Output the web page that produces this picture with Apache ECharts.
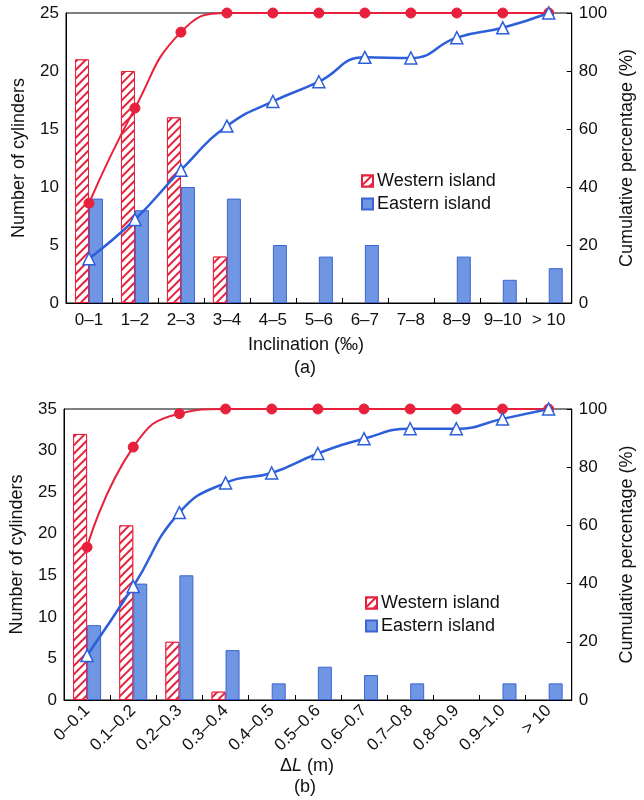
<!DOCTYPE html>
<html><head><meta charset="utf-8">
<script src="https://cdn.jsdelivr.net/npm/echarts@6/dist/echarts.min.js"></script>
<style>html,body{margin:0;padding:0;background:#fff}#c{width:644px;height:800px}</style>
</head><body><div id="c"></div>
<script>
// (a) Inclination
const catsA = ['0–1','1–2','2–3','3–4','4–5','5–6','6–7','7–8','8–9','9–10','> 10'];
const westA = [21, 20, 16, 4, 0, 0, 0, 0, 0, 0, 0];
const eastA = [9, 8, 10, 9, 5, 4, 5, 0, 4, 2, 3];
const westCumA = [34.4, 67.2, 93.4, 100, 100, 100, 100, 100, 100, 100, 100];
const eastCumA = [15.3, 28.8, 45.8, 61.0, 69.5, 76.3, 84.7, 84.5, 91.5, 94.9, 100];
// (b) Delta L
const catsB = ['0–0.1','0.1–0.2','0.2–0.3','0.3–0.4','0.4–0.5','0.5–0.6','0.6–0.7','0.7–0.8','0.8–0.9','0.9–1.0','> 10'];
const westB = [32, 21, 7, 1, 0, 0, 0, 0, 0, 0, 0];
const eastB = [9, 14, 15, 6, 2, 4, 3, 2, 0, 2, 2];
const westCumB = [52.5, 86.9, 98.4, 100, 100, 100, 100, 100, 100, 100, 100];
const eastCumB = [15.3, 39.0, 64.4, 74.6, 78.0, 84.7, 89.8, 93.2, 93.2, 96.6, 100];

const FONT = 'Liberation Sans, Arial, sans-serif';
const RED = '#e8203c', BLUE = '#2c5fd9';
const chart = echarts.init(document.getElementById('c'), null, {renderer: 'canvas'});

const hatch = {
  color: '#fff', borderColor: RED, borderWidth: 1,
  decal: {symbol: 'rect', color: RED, backgroundColor: '#fff', dashArrayX: [1, 0], dashArrayY: [1.6, 3.2], rotation: -Math.PI / 4, symbolSize: 1}
};
const blueBar = {color: '#6f96e2', borderColor: '#3d63d6', borderWidth: 1};
const noZero = arr => arr.map(v => (v === 0 ? '-' : v));

function xAx(gi, cats, rot) {
  return {
    type: 'category', gridIndex: gi, data: cats,
    axisLine: {lineStyle: {color: '#000', width: 1}},
    axisTick: {show: true, inside: true, length: 5, lineStyle: {color: '#000'}},
    axisLabel: {color: '#111', fontSize: 17, fontFamily: FONT, margin: rot ? 8 : 9, rotate: rot, interval: 0}
  };
}
function yLeft(gi, max) {
  return {
    type: 'value', gridIndex: gi, min: 0, max: max, interval: 5, position: 'left',
    name: 'Number of cylinders', nameLocation: 'middle', nameGap: 38,
    nameTextStyle: {color: '#111', fontSize: 18, fontFamily: FONT},
    axisLine: {show: true, lineStyle: {color: '#000'}},
    axisTick: {show: false}, splitLine: {show: false},
    axisLabel: {color: '#111', fontSize: 17, fontFamily: FONT, margin: 7}
  };
}
function yRight(gi, gap) {
  return {
    type: 'value', gridIndex: gi, min: 0, max: 100, interval: 20, position: 'right',
    name: 'Cumulative percentage (%)', nameLocation: 'middle', nameGap: gap, nameRotate: 90,
    nameTextStyle: {color: '#111', fontSize: 18, fontFamily: FONT},
    axisLine: {show: true, lineStyle: {color: '#000'}},
    axisTick: {show: true, inside: true, length: 5, lineStyle: {color: '#000'}}, splitLine: {show: false},
    axisLabel: {color: '#111', fontSize: 17, fontFamily: FONT, margin: 7}
  };
}
function legend(top, left) {
  return {
    orient: 'vertical', left: left, top: top, itemWidth: 11, itemHeight: 11, itemGap: 5, icon: 'rect',
    data: ['Western island', 'Eastern island'],
    textStyle: {color: '#111', fontSize: 18, fontFamily: FONT, padding: [0, 0, 0, -1]},
    selectedMode: false
  };
}
function seriesFor(xi, yl, yr, west, east, wc, ec, bw) {
  return [
    {name: 'Western island', type: 'bar', xAxisIndex: xi, yAxisIndex: yl, data: noZero(west), barWidth: bw, barGap: '0%', itemStyle: hatch},
    {name: 'Eastern island', type: 'bar', xAxisIndex: xi, yAxisIndex: yl, data: noZero(east), barWidth: bw, barGap: '0%', itemStyle: blueBar},
    {name: 'W cum', type: 'line', xAxisIndex: xi, yAxisIndex: yr, data: wc, smooth: 0.5, symbol: 'circle', symbolSize: 10,
      lineStyle: {color: RED, width: 2}, itemStyle: {color: RED, borderColor: RED}},
    {name: 'E cum', type: 'line', xAxisIndex: xi, yAxisIndex: yr, data: ec, smooth: 0.5, symbol: 'triangle', symbolSize: 12,
      lineStyle: {color: BLUE, width: 2.5}, itemStyle: {color: '#fff', borderColor: BLUE, borderWidth: 1.5}}
  ];
}

chart.setOption({
  animation: false,
  backgroundColor: '#fff',
  grid: [
    {left: 66, top: 13, width: 512, height: 290, show: true, borderColor: '#000', borderWidth: 1},
    {left: 62, top: 409, width: 521, height: 291, show: true, borderColor: '#000', borderWidth: 1}
  ],
  xAxis: [xAx(0, catsA, 0), xAx(1, catsB, 45)],
  yAxis: [yLeft(0, 25), yRight(0, 40), yLeft(1, 35), yRight(1, 45)],
  legend: [legend(167, 356), legend(589, 360)],
  series: [].concat(
    seriesFor(0, 0, 1, westA, eastA, westCumA, eastCumA, 14),
    seriesFor(1, 2, 3, westB, eastB, westCumB, eastCumB, 14)
  ),
  graphic: [
    {type: 'text', x: 306, y: 345, style: {text: 'Inclination (‰)', textAlign: 'center', textVerticalAlign: 'middle', font: '18px ' + FONT, fill: '#111'}},
    {type: 'text', x: 305, y: 368, style: {text: '(a)', textAlign: 'center', textVerticalAlign: 'middle', font: '18px ' + FONT, fill: '#111'}},
    {type: 'text', x: 307, y: 766, style: {text: '{d|Δ}{i|L}{d| (m)}', textAlign: 'center', textVerticalAlign: 'middle', fill: '#111',
      rich: {d: {fontSize: 18, fontFamily: FONT, fill: '#111'}, i: {fontSize: 18, fontFamily: FONT, fontStyle: 'italic', fill: '#111'}}}},
    {type: 'text', x: 305, y: 787, style: {text: '(b)', textAlign: 'center', textVerticalAlign: 'middle', font: '18px ' + FONT, fill: '#111'}}
  ]
});
</script></body></html>
